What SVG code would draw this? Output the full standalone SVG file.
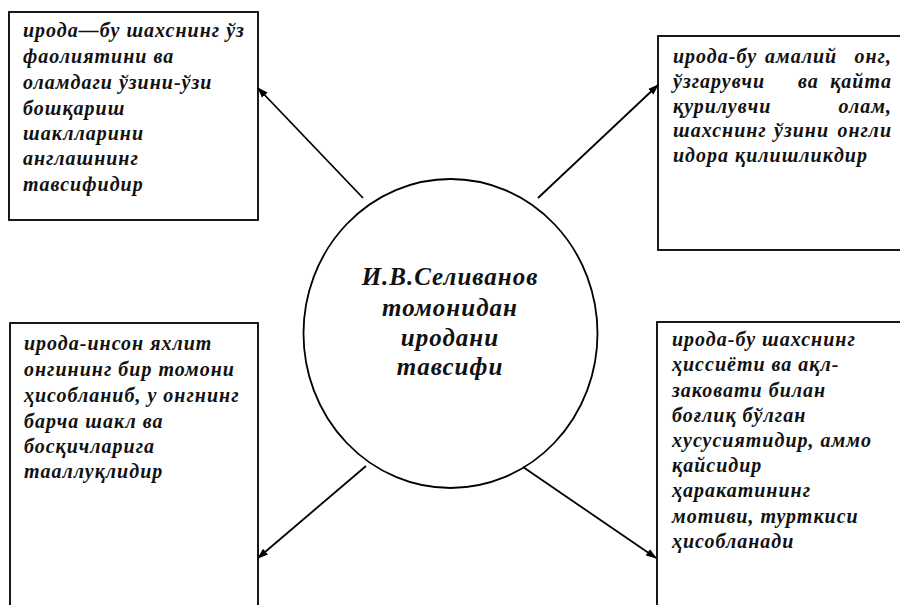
<svg xmlns="http://www.w3.org/2000/svg" width="900" height="605" viewBox="0 0 900 605">
<defs>
<marker id="ah" viewBox="0 0 10 10" refX="9" refY="5" markerWidth="11" markerHeight="11" markerUnits="userSpaceOnUse" orient="auto">
<path d="M0,1.5 L10,5 L0,8.5 z" fill="#000"/>
</marker>
<style>
.box{fill:#fff;stroke:#000;stroke-width:1.8}
.t{font-family:"Liberation Serif","Times New Roman",serif;font-style:italic;font-weight:bold;font-size:20px;letter-spacing:1px;fill:#111}
.c{font-family:"Liberation Serif","Times New Roman",serif;font-style:italic;font-weight:bold;font-size:25px;letter-spacing:1px;fill:#111;text-anchor:middle}
.e{text-anchor:end}
.ln{stroke:#000;stroke-width:1.8;fill:none;marker-end:url(#ah)}
</style>
</defs>
<rect width="900" height="605" fill="#fff"/>
<g id="box-tl">
<rect class="box" x="9" y="12" width="249" height="208"/>
<text class="t" x="23" y="37">ирода—бу шахснинг ўз</text>
<text class="t" x="23" y="63">фаолиятини ва</text>
<text class="t" x="23" y="89">оламдаги ўзини-ўзи</text>
<text class="t" x="23" y="115">бошқариш</text>
<text class="t" x="23" y="140">шаклларини</text>
<text class="t" x="23" y="165">англашнинг</text>
<text class="t" x="23" y="191">тавсифидир</text>
</g>
<g id="box-tr">
<rect class="box" x="658" y="36" width="260" height="214"/>
<text class="t" x="673" y="63">ирода-бу</text><text class="t" x="765" y="63">амалий</text><text class="t e" x="892" y="63">онг,</text>
<text class="t" x="673" y="88">ўзгарувчи</text><text class="t" x="798" y="88">ва</text><text class="t e" x="892" y="88">қайта</text>
<text class="t" x="673" y="113">қурилувчи</text><text class="t e" x="892" y="113">олам,</text>
<text class="t" x="673" y="137">шахснинг</text><text class="t" x="774" y="137">ўзини</text><text class="t e" x="892" y="137">онгли</text>
<text class="t" x="673" y="162">идора қилишликдир</text>
</g>
<g id="box-bl">
<rect class="box" x="10" y="323" width="248" height="300"/>
<text class="t" x="24" y="350">ирода-инсон яхлит</text>
<text class="t" x="24" y="376">онгининг бир томони</text>
<text class="t" x="24" y="402">ҳисобланиб, у онгнинг</text>
<text class="t" x="24" y="428">барча шакл ва</text>
<text class="t" x="24" y="453">босқичларига</text>
<text class="t" x="24" y="478">тааллуқлидир</text>
</g>
<g id="box-br">
<rect class="box" x="657" y="322" width="260" height="300"/>
<text class="t" x="672" y="346">ирода-бу шахснинг</text>
<text class="t" x="672" y="371">ҳиссиёти ва ақл-</text>
<text class="t" x="672" y="397">заковати билан</text>
<text class="t" x="672" y="422">боғлиқ бўлган</text>
<text class="t" x="672" y="447">хусусиятидир, аммо</text>
<text class="t" x="672" y="472">қайсидир</text>
<text class="t" x="672" y="497">ҳаракатининг</text>
<text class="t" x="672" y="523">мотиви, турткиси</text>
<text class="t" x="672" y="548">ҳисобланади</text>
</g>
<g id="center">
<ellipse cx="450.5" cy="333.5" rx="147" ry="154.5" fill="none" stroke="#000" stroke-width="1.8"/>
<text class="c" x="450" y="285">И.В.Селиванов</text>
<text class="c" x="450" y="316">томонидан</text>
<text class="c" x="450" y="346">иродани</text>
<text class="c" x="450" y="375">тавсифи</text>
</g>
<g id="connectors">
<line class="ln" x1="363" y1="198" x2="258" y2="88"/>
<line class="ln" x1="538" y1="198" x2="658" y2="85"/>
<line class="ln" x1="366" y1="466" x2="258" y2="558"/>
<line class="ln" x1="523" y1="467" x2="656" y2="558"/>
</g>
</svg>
